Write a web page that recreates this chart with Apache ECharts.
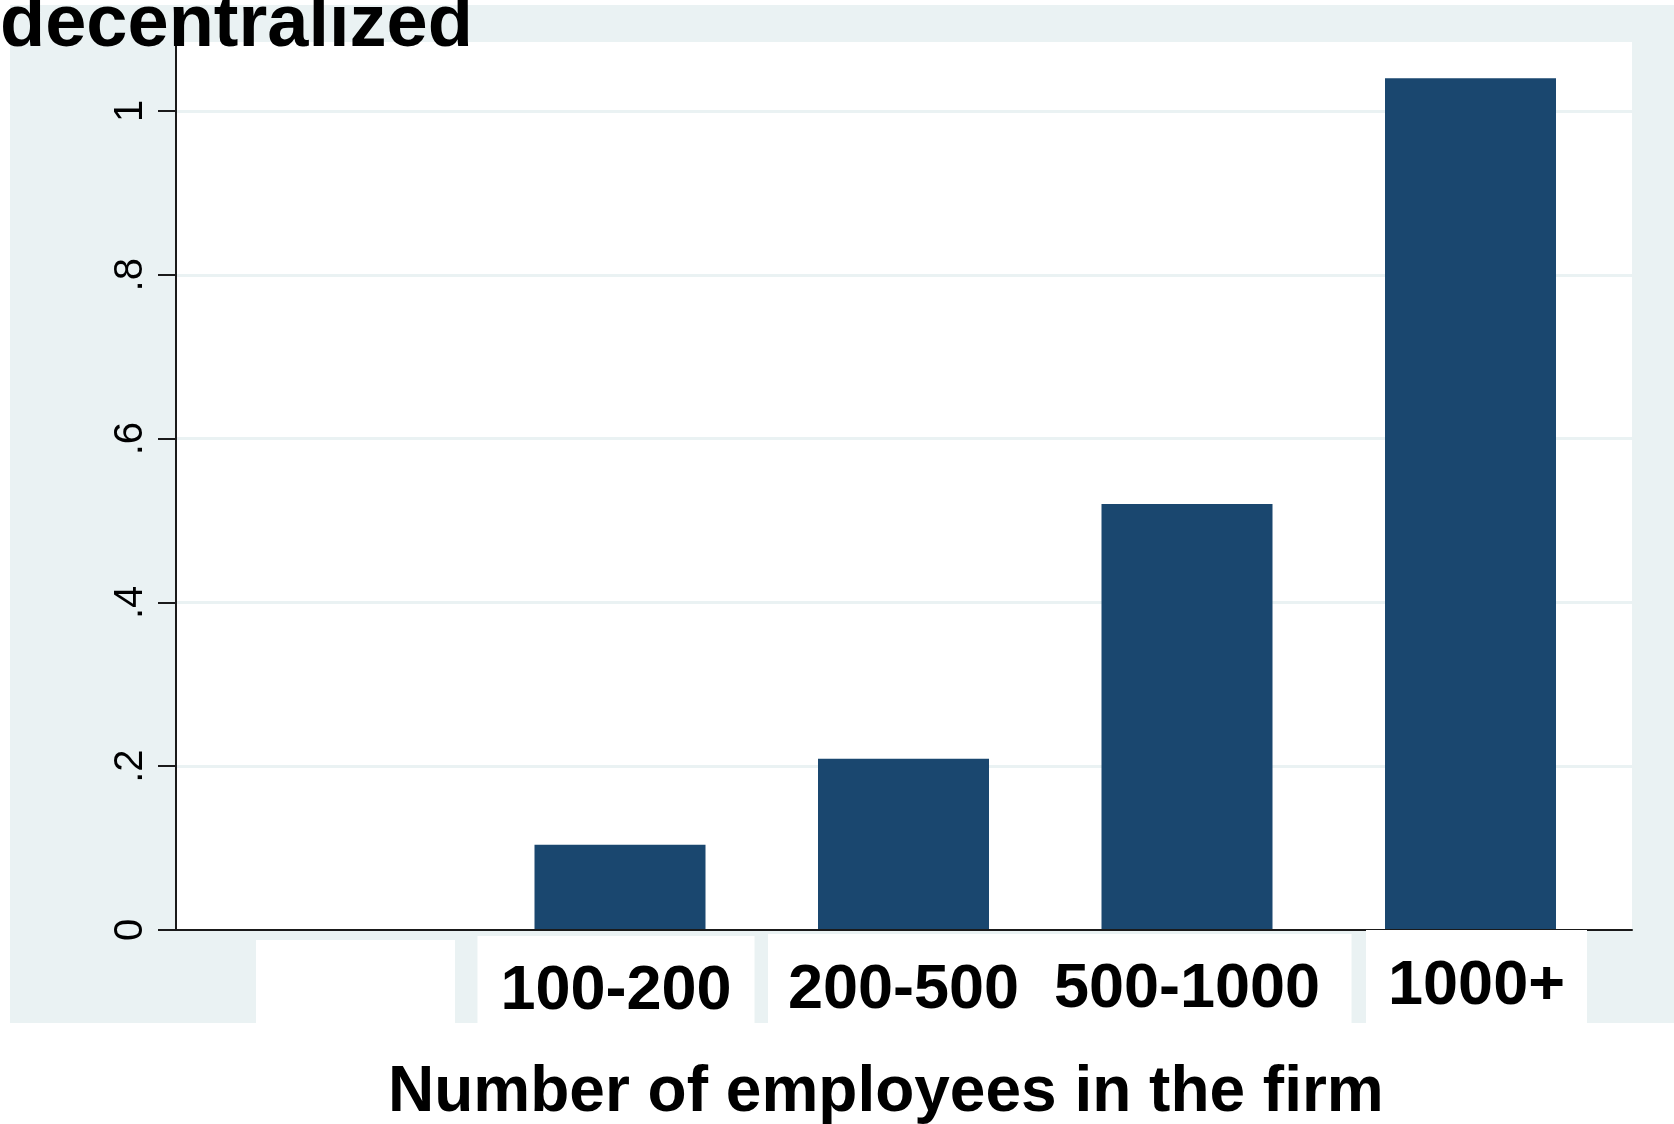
<!DOCTYPE html>
<html>
<head>
<meta charset="utf-8">
<script src="https://cdn.jsdelivr.net/npm/echarts@6/dist/echarts.min.js"></script>
<style>
    html, body { margin: 0; padding: 0; background: #fff; }
    #chart { width: 1674px; height: 1124px; }
</style>
</head>
<body>
<div id="chart"></div>
<script>
const categories = ["", "100-200", "200-500", "500-1000", "1000+"];
const shareDecentralized = [0, 0.104, 0.209, 0.52, 1.04];
const yTickValues = [0, 0.2, 0.4, 0.6, 0.8, 1];
const yTickLabels = ["0", ".2", ".4", ".6", ".8", "1"];

const FONT = "'Liberation Sans', Arial, Helvetica, sans-serif";
const BG = "#EAF2F3";
const Y_MAX = 1.0842;

// stata draws a white box behind every category label, each a bit different
const labelBoxes = [
    { width: 199, height: 83, top: 10, shift: 19, drop: 24 },
    { width: 277, height: 87, top: 6, shift: -4, drop: 24 },
    { width: 271, height: 89, top: 4, shift: 0, drop: 24 },
    { width: 329, height: 89, top: 4, shift: 0, drop: 22 },
    { width: 221, height: 93, top: 0, shift: 6, drop: 20 },
];

const rich = {};
labelBoxes.forEach((b, i) => {
    rich["v" + i] = { fontSize: 1, height: Math.max(b.top, 0.01), lineHeight: Math.max(b.top, 0.01), width: 1 };
    rich["l" + i] = { fontSize: 1, height: 1, width: Math.max(b.shift * 2, 0) };
    rich["r" + i] = { fontSize: 1, height: 1, width: Math.max(-b.shift * 2, 0) };
    rich["b" + i] = {
        fontFamily: FONT,
        fontWeight: "bold",
        fontSize: 63,
        color: "#000",
        backgroundColor: "#fff",
        width: b.width,
        height: b.height - b.drop,
        lineHeight: b.height,
        padding: [b.drop, 0, 0, 0],
        align: "center",
    };
});

function categoryLabel(value, index) {
    const b = labelBoxes[index];
    let s = "";
    if (b.top > 0) s += `{v${index}| }\n`;
    if (b.shift > 0) s += `{l${index}| }`;
    s += `{b${index}|${value === "" ? " " : value}}`;
    if (b.shift < 0) s += `{r${index}| }`;
    return s;
}

const chart = echarts.init(document.getElementById("chart"));

chart.setOption({
    backgroundColor: "#fff",
    animation: false,
    graphic: [
        {
            type: "rect",
            z: -10,
            shape: { x: 10, y: 5, width: 1664, height: 1018 },
            style: { fill: BG },
        },
    ],
    title: [
        {
            text: "decentralized",
            left: 0,
            top: -11,
            padding: 0,
            textStyle: {
                fontFamily: FONT,
                fontWeight: "bold",
                fontSize: 74,
                lineHeight: 74,
                color: "#000",
            },
        },
        {
            text: "Number of employees in the firm",
            left: 388,
            top: 1061,
            padding: 0,
            textStyle: {
                fontFamily: FONT,
                fontWeight: "bold",
                fontSize: 64,
                lineHeight: 64,
                color: "#000",
            },
        },
    ],
    grid: [
        {
            // white plot region with the y scale
            left: 176,
            right: 42,
            top: 42,
            bottom: 194,
            show: true,
            backgroundColor: "#fff",
            borderWidth: 0,
        },
        {
            // category bands for the bars
            left: 194.75,
            right: 61.75,
            top: 42,
            bottom: 194,
        },
    ],
    xAxis: [
        {
            gridIndex: 0,
            type: "value",
            min: 0,
            max: 1,
            z: 3,
            axisLine: { show: true, lineStyle: { color: "#1a1a1a", width: 2 } },
            axisTick: { show: false },
            axisLabel: { show: false },
            splitLine: { show: false },
        },
        {
            gridIndex: 1,
            type: "category",
            data: categories,
            z: 4,
            axisLine: { show: false },
            axisTick: { show: false },
            axisLabel: {
                interval: 0,
                margin: 0,
                formatter: categoryLabel,
                rich: rich,
            },
        },
    ],
    yAxis: [
        {
            gridIndex: 0,
            type: "value",
            min: 0,
            max: Y_MAX,
            interval: 0.2,
            axisLine: { show: true, lineStyle: { color: "#1a1a1a", width: 2 } },
            axisTick: {
                show: true,
                length: 18,
                customValues: yTickValues,
                lineStyle: { color: "#1a1a1a", width: 2 },
            },
            axisLabel: {
                customValues: yTickValues,
                rotate: 90,
                margin: 25,
                fontFamily: FONT,
                fontSize: 40,
                color: "#000",
                formatter: (v) => {
                    const i = yTickValues.findIndex((t) => Math.abs(t - v) < 1e-9);
                    return i < 0 ? "" : yTickLabels[i];
                },
            },
            splitLine: { show: true, lineStyle: { color: BG, width: 3 } },
        },
        {
            gridIndex: 1,
            type: "value",
            min: 0,
            max: Y_MAX,
            show: false,
            splitLine: { show: false },
        },
    ],
    series: [
        {
            type: "bar",
            xAxisIndex: 1,
            yAxisIndex: 1,
            barWidth: 171,
            itemStyle: { color: "#1A476F" },
            data: shareDecentralized,
        },
    ],
});
</script>
</body>
</html>
